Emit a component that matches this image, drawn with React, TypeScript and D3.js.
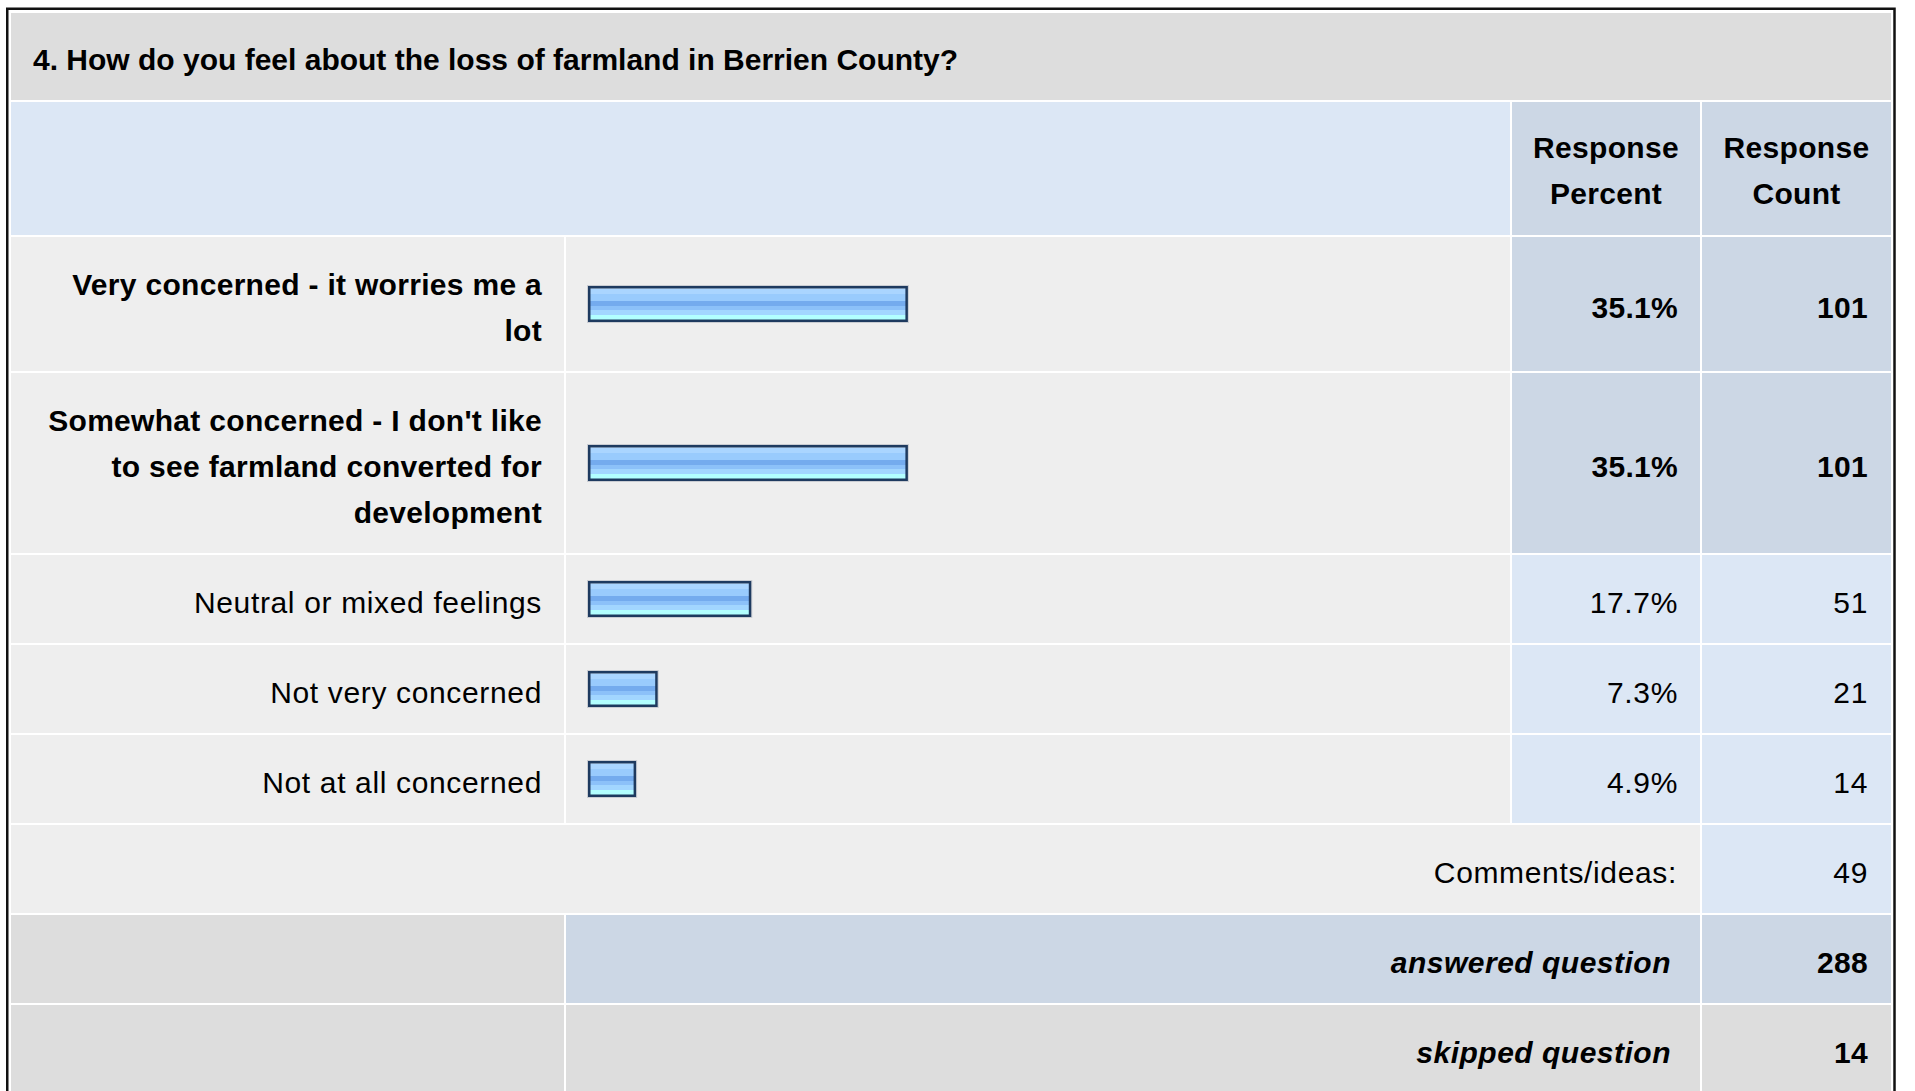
import React, { useEffect } from "react";
import * as d3 from "d3";

// survey question + answers
const questionTitle = "4. How do you feel about the loss of farmland in Berrien County?";
const answerLabels = [
  "Very concerned - it worries me a lot",
  "Somewhat concerned - I don't like to see farmland converted for development",
  "Neutral or mixed feelings",
  "Not very concerned",
  "Not at all concerned",
];
const answerPercents = [35.1, 35.1, 17.7, 7.3, 4.9];
const answerCounts = [101, 101, 51, 21, 14];
const headerPercent = ["Response", "Percent"];
const headerCount = ["Response", "Count"];
const commentsLabel = "Comments/ideas:";
const commentsCount = 49;
const answeredLabel = "answered question";
const answeredCount = 288;
const skippedLabel = "skipped question";
const skippedCount = 14;

const FONT = "'Liberation Sans', Arial, Helvetica, sans-serif";
const FS = 30;
const LINE = 46;
const GAP = 2;
const LS_REG = 0.65;
const LS_BOLD = 0.3;
const LS_ITAL = 0.5;

// columns (left, right)
const col1 = [11, 564];
const col2 = [566, 1510];
const col3 = [1512, 1700];
const col4 = [1702, 1891];

const C = {
  title: "#dddddd",
  headBlank: "#dce7f5",
  headDark: "#ccd7e5",
  cell: "#eeeeee",
  dataLight: "#dce7f5",
  dataDark: "#ccd7e5",
  grey: "#dddddd",
};

let measureCtx: CanvasRenderingContext2D | null = null;
function textWidth(t: string, bold: boolean) {
  if (!measureCtx) {
    const c = document.createElement("canvas");
    measureCtx = c.getContext("2d");
  }
  if (!measureCtx) return t.length * FS * 0.55;
  measureCtx.font = (bold ? "bold " : "") + FS + "px " + FONT;
  return measureCtx.measureText(t).width + t.length * (bold ? LS_BOLD : LS_REG);
}

function wrap(t: string, maxW: number, bold: boolean) {
  const words = t.split(" ");
  const lines: string[] = [];
  let cur = "";
  words.forEach((w) => {
    const test = cur ? cur + " " + w : w;
    if (cur && textWidth(test, bold) > maxW) {
      lines.push(cur);
      cur = w;
    } else {
      cur = test;
    }
  });
  if (cur) lines.push(cur);
  return lines;
}

export default function App() {
  useEffect(() => {
    document.body.style.margin = "0";
  }, []);

  const maxPct = d3.max(answerPercents) as number;
  const x = d3.scaleLinear().domain([0, 100]).range([0, 900]);

  const titleTop = 13;
  const titleH = 87;
  const headTop = titleTop + titleH + GAP;
  const headH = 133;

  // answer rows layout
  let yCursor = headTop + headH + GAP;
  const rows = answerLabels.map((label, i) => {
    const bold = answerPercents[i] === maxPct;
    const lines = wrap(label, 500, bold);
    const h = 42 + lines.length * LINE;
    const r = { label, lines, bold, top: yCursor, h, pct: answerPercents[i], count: answerCounts[i] };
    yCursor += h + GAP;
    return r;
  });
  const commentsTop = yCursor;
  const footH = 88;
  const answeredTop = commentsTop + footH + GAP;
  const skippedTop = answeredTop + footH + GAP;

  const cellRect = (c: number[], top: number, h: number, fill: string, key: string) => (
    <rect key={key} x={c[0]} y={top} width={c[1] - c[0]} height={h} fill={fill} />
  );

  const txt = {
    fontFamily: FONT,
    fontSize: FS,
    fill: "#000",
  };
  const weight = (b: boolean) => ({
    fontWeight: b ? "bold" : "normal",
    letterSpacing: b ? LS_BOLD : LS_REG,
  });

  return (
    <svg width={1915} height={1091} style={{ display: "block", background: "#fff" }}>
      <defs>
        <linearGradient id="barFill" x1="0" y1="0" x2="0" y2="1">
          <stop offset="0" stopColor="#cce6ff" />
          <stop offset="0.06" stopColor="#cce6ff" />
          <stop offset="0.06" stopColor="#aad5ff" />
          <stop offset="0.19" stopColor="#aad5ff" />
          <stop offset="0.19" stopColor="#99cbfd" />
          <stop offset="0.4" stopColor="#99cbfd" />
          <stop offset="0.4" stopColor="#74abee" />
          <stop offset="0.56" stopColor="#74abee" />
          <stop offset="0.56" stopColor="#8cc1f9" />
          <stop offset="0.69" stopColor="#8cc1f9" />
          <stop offset="0.69" stopColor="#a2d6ff" />
          <stop offset="0.82" stopColor="#a2d6ff" />
          <stop offset="0.82" stopColor="#b2ffff" />
          <stop offset="1" stopColor="#b2ffff" />
        </linearGradient>
      </defs>

      {/* outer frame */}
      <rect x={7.25} y={8.75} width={1887.25} height={1120} fill="#fff" stroke="#111" strokeWidth={2.5} />

      {/* title */}
      <rect x={col1[0]} y={titleTop} width={col4[1] - col1[0]} height={titleH} fill={C.title} />
      <text x={33} y={titleTop + titleH / 2 + 13} {...txt} fontWeight="bold">
        {questionTitle}
      </text>

      {/* header */}
      <rect x={col1[0]} y={headTop} width={col2[1] - col1[0]} height={headH} fill={C.headBlank} />
      {cellRect(col3, headTop, headH, C.headDark, "h3")}
      {cellRect(col4, headTop, headH, C.headDark, "h4")}
      {[
        { c: col3, lines: headerPercent },
        { c: col4, lines: headerCount },
      ].map((h, k) => (
        <text key={"ht" + k} {...txt} {...weight(true)} textAnchor="middle">
          {h.lines.map((l, j) => (
            <tspan key={j} x={(h.c[0] + h.c[1]) / 2} y={headTop + headH / 2 + 12.5 + (j - (h.lines.length - 1) / 2) * LINE}>
              {l}
            </tspan>
          ))}
        </text>
      ))}

      {/* answers */}
      {rows.map((r, i) => {
        const cy = r.top + r.h / 2;
        const dataFill = r.bold ? C.dataDark : C.dataLight;
        const w = x(r.pct) + 5;
        return (
          <g key={"row" + i}>
            {cellRect(col1, r.top, r.h, C.cell, "a")}
            {cellRect(col2, r.top, r.h, C.cell, "b")}
            {cellRect(col3, r.top, r.h, dataFill, "c")}
            {cellRect(col4, r.top, r.h, dataFill, "d")}
            <text {...txt} {...weight(r.bold)} textAnchor="end">
              {r.lines.map((l, j) => (
                <tspan key={j} x={col1[1] - 22} y={cy + 14 + (j - (r.lines.length - 1) / 2) * LINE}>
                  {l}
                </tspan>
              ))}
            </text>
            <rect x={587.5} y={cy - 18.5} width={w} height={37} fill="none" stroke="#c9ccd2" strokeWidth={1} />
            <rect
              x={589.25}
              y={cy - 16.75}
              width={w - 3.5}
              height={33.5}
              fill="url(#barFill)"
              stroke="#1e3a5f"
              strokeWidth={2.5}
            />
            <text x={col3[1] - 22} y={cy + 14} {...txt} {...weight(r.bold)} textAnchor="end">
              {r.pct.toFixed(1) + "%"}
            </text>
            <text x={col4[1] - 23} y={cy + 14} {...txt} {...weight(r.bold)} textAnchor="end">
              {r.count}
            </text>
          </g>
        );
      })}

      {/* comments */}
      <rect x={col1[0]} y={commentsTop} width={col3[1] - col1[0]} height={footH} fill={C.cell} />
      {cellRect(col4, commentsTop, footH, C.dataLight, "cm4")}
      <text x={col3[1] - 23} y={commentsTop + footH / 2 + 14} {...txt} {...weight(false)} textAnchor="end">
        {commentsLabel}
      </text>
      <text x={col4[1] - 23} y={commentsTop + footH / 2 + 14} {...txt} {...weight(false)} textAnchor="end">
        {commentsCount}
      </text>

      {/* answered */}
      {cellRect(col1, answeredTop, footH, C.grey, "an1")}
      <rect x={col2[0]} y={answeredTop} width={col3[1] - col2[0]} height={footH} fill={C.dataDark} />
      {cellRect(col4, answeredTop, footH, C.dataDark, "an4")}
      <text x={col3[1] - 29} y={answeredTop + footH / 2 + 14} {...txt} fontWeight="bold" fontStyle="italic" letterSpacing={LS_ITAL} textAnchor="end">
        {answeredLabel}
      </text>
      <text x={col4[1] - 23} y={answeredTop + footH / 2 + 14} {...txt} {...weight(true)} textAnchor="end">
        {answeredCount}
      </text>

      {/* skipped */}
      {cellRect(col1, skippedTop, footH, C.grey, "sk1")}
      <rect x={col2[0]} y={skippedTop} width={col3[1] - col2[0]} height={footH} fill={C.grey} />
      {cellRect(col4, skippedTop, footH, C.grey, "sk4")}
      <text x={col3[1] - 29} y={skippedTop + footH / 2 + 14} {...txt} fontWeight="bold" fontStyle="italic" letterSpacing={LS_ITAL} textAnchor="end">
        {skippedLabel}
      </text>
      <text x={col4[1] - 23} y={skippedTop + footH / 2 + 14} {...txt} {...weight(true)} textAnchor="end">
        {skippedCount}
      </text>
    </svg>
  );
}
